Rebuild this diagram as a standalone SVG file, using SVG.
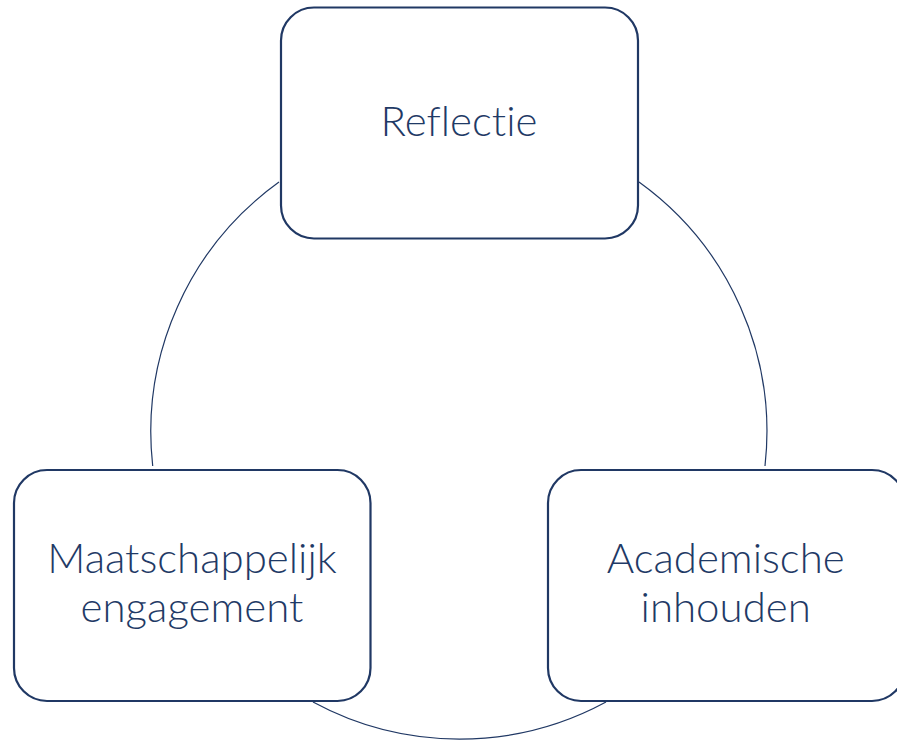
<svg xmlns="http://www.w3.org/2000/svg" width="897" height="740" viewBox="0 0 897 740">
<style>
.box{fill:#fff;stroke:#203864;stroke-width:2.2}
.conn{fill:none;stroke:#203864;stroke-width:1.2}
.lbl{font-family:Lato,"Open Sans","Liberation Sans",sans-serif;font-weight:300;font-size:42px;fill:#1f3a66;text-anchor:middle;font-variant-ligatures:none}
</style>
<rect width="897" height="740" fill="#fff"/>
<g id="connectors">
<path class="conn" d="M639,182 A308,308 0 0 1 765,466"/>
<path class="conn" d="M606,702 A308,308 0 0 1 313,702"/>
<path class="conn" d="M152.7,466 A308,308 0 0 1 279,182"/>
</g>
<g id="reflectie">
<rect class="box" x="281" y="7.5" width="357" height="231" rx="33"/>
<text class="lbl" x="459" y="136">Reflectie</text>
</g>
<g id="maatschappelijk">
<rect class="box" x="14" y="470" width="356.5" height="231" rx="33"/>
<text class="lbl" x="192" y="572.7">Maatschappelijk</text>
<text class="lbl" x="192" y="621.7">engagement</text>
</g>
<g id="academische">
<rect class="box" x="548" y="470" width="357" height="231" rx="33"/>
<text class="lbl" x="725.7" y="572.7">Academische</text>
<text class="lbl" x="725.7" y="621.7">inhouden</text>
</g>
</svg>
